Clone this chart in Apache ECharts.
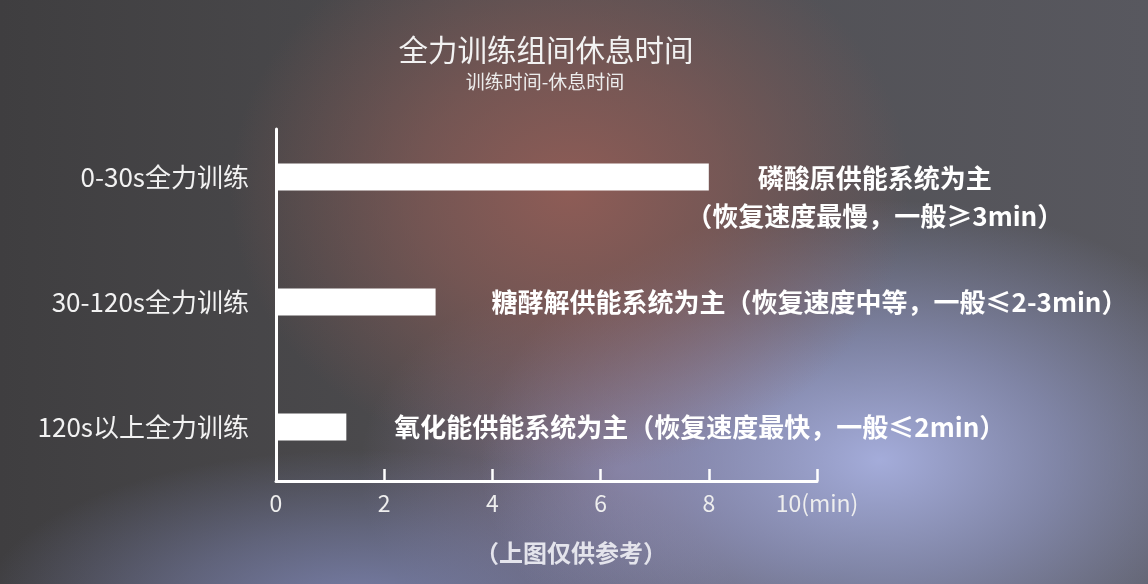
<!DOCTYPE html>
<html>
<head>
<meta charset="utf-8">
<script src="https://cdn.jsdelivr.net/npm/echarts@6/dist/echarts.min.js"></script>
<style>
html,body{margin:0;padding:0;width:1148px;height:584px;overflow:hidden;}
body{
  background-color:#4b4a4d;
  background-image:
    radial-gradient(ellipse 340px 280px at 570px 190px, rgba(142,92,86,1) 0%, rgba(142,92,86,0.6) 45%, rgba(142,92,86,0) 100%),
    radial-gradient(ellipse 400px 260px at 880px 460px, rgba(164,172,218,1) 0%, rgba(150,158,205,0.65) 45%, rgba(150,158,205,0) 100%),
    radial-gradient(ellipse 380px 160px at 360px 610px, rgba(128,136,185,0.85) 0%, rgba(128,136,185,0.45) 50%, rgba(128,136,185,0) 100%),
    radial-gradient(ellipse 260px 200px at 620px 470px, rgba(135,120,150,0.8) 0%, rgba(135,120,150,0) 100%),
    linear-gradient(90deg, #3f3e40 0%, #4d4c4f 40%, #58585f 100%);
}
#chart{width:1148px;height:584px;}
</style>
</head>
<body>
<div id="chart"></div>
<script>
var categories = ['0-30s全力训练', '30-120s全力训练', '120s以上全力训练'];
var restMinutes = [8, 2.95, 1.3];
var barNotes = [
  '磷酸原供能系统为主\n（恢复速度最慢，一般≥3min）',
  '糖酵解供能系统为主（恢复速度中等，一般≤2-3min）',
  '氧化能供能系统为主（恢复速度最快，一般≤2min）'
];
var xTicks = [0, 2, 4, 6, 8, 10];
var xUnit = '(min)';
var titleText = '全力训练组间休息时间';
var subtitleText = '训练时间-休息时间';
var footnoteText = '（上图仅供参考）';

var FONT = '"Noto Sans CJK SC", "Noto Sans", sans-serif';
var labelStyles = [
  {position: 'right', distance: 0, align: 'center', offset: [166, 20], lineHeight: 38},
  {position: 'right', distance: 56},
  {position: 'right', distance: 48}
];

var barData = restMinutes.map(function (v, i) {
  var ls = labelStyles[i];
  return {
    value: v,
    label: Object.assign({
      show: true,
      formatter: barNotes[i],
      color: '#ffffff',
      fontSize: 26,
      fontWeight: 'bold',
      fontFamily: FONT
    }, ls)
  };
});

var chart = echarts.init(document.getElementById('chart'), null, {renderer: 'canvas'});
chart.setOption({
  backgroundColor: 'transparent',
  animation: false,
  title: [
    {text: titleText, left: 541, top: 30, textAlign: 'center',
     textStyle: {color: '#f2f2f2', fontSize: 29.5, fontWeight: 'normal', fontFamily: FONT}},
    {text: subtitleText, left: 540, top: 67, textAlign: 'center',
     textStyle: {color: '#ececec', fontSize: 19, fontWeight: 'normal', fontFamily: FONT}},
    {text: footnoteText, left: 566, top: 536, textAlign: 'center',
     textStyle: {color: '#e4e4ec', fontSize: 24, fontWeight: 'bold', fontFamily: FONT}}
  ],
  grid: [
    {left: 276, right: 331, top: 114.5, bottom: 94.5},
    {left: 276, right: 331, top: 129, bottom: 103}
  ],
  xAxis: [
    {gridIndex: 0, type: 'value', min: 0, max: 10, show: false},
    {gridIndex: 1, type: 'value', min: 0, max: 10, interval: 2,
     axisLine: {show: true, lineStyle: {color: '#ffffff', width: 3}},
     axisTick: {show: true, inside: true, length: 12, lineStyle: {color: '#ffffff', width: 2.5}},
     splitLine: {show: false},
     axisLabel: {
       color: '#eeeeee', fontSize: 23, fontFamily: FONT, margin: 11,
       formatter: function (v) { return v === xTicks[xTicks.length - 1] ? v + xUnit : String(v); }
     }}
  ],
  yAxis: [
    {gridIndex: 0, type: 'category', data: categories, inverse: true,
     axisLine: {show: false}, axisTick: {show: false}, splitLine: {show: false},
     axisLabel: {color: '#f2f2f2', fontSize: 26, fontFamily: FONT, margin: 27}},
    {gridIndex: 1, type: 'value', min: 0, max: 1,
     axisLine: {show: true, lineStyle: {color: '#ffffff', width: 3}},
     axisTick: {show: false}, axisLabel: {show: false}, splitLine: {show: false}}
  ],
  series: [{
    type: 'bar',
    xAxisIndex: 0,
    yAxisIndex: 0,
    data: barData,
    barWidth: 27,
    itemStyle: {color: '#ffffff'}
  }]
});
</script>
</body>
</html>
